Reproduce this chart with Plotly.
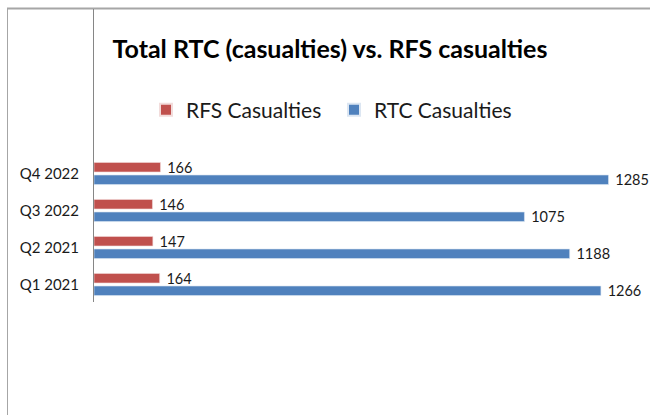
import plotly.graph_objects as go

categories = ["Q1 2021", "Q2 2021", "Q3 2022", "Q4 2022"]
rfs_casualties = [164, 147, 146, 166]
rtc_casualties = [1266, 1188, 1075, 1285]

W, H = 650, 415
L, R, T, B = 94, 0, 155, 112
pw, ph = W - L - R, H - T - B

def px(x):
    return (x - L) / pw

def py(y):
    return (H - B - y) / ph

FONT = "Lato, Carlito, sans-serif"
RED = "#C0504D"
BLUE = "#4F81BD"

fig = go.Figure()
fig.add_trace(go.Bar(
    y=categories, x=rtc_casualties, orientation="h", name="RTC Casualties",
    marker=dict(color=BLUE, line=dict(color="#DCE6F2", width=0.6)),
    text=rtc_casualties, texttemplate=" %{x}", textposition="outside", cliponaxis=False,
    constraintext="none",
    textfont=dict(family=FONT, size=14.5, color="#1a1a1a"), legendrank=2,
))
fig.add_trace(go.Bar(
    y=categories, x=rfs_casualties, orientation="h", name="RFS Casualties",
    marker=dict(color=RED, line=dict(color="#F2DCDB", width=0.6)),
    text=rfs_casualties, texttemplate=" %{x}", textposition="outside", cliponaxis=False,
    constraintext="none",
    textfont=dict(family=FONT, size=14.5, color="#1a1a1a"), legendrank=1,
))

fig.update_layout(
    width=W, height=H,
    margin=dict(l=L, r=R, t=T, b=B, pad=0),
    paper_bgcolor="white", plot_bgcolor="white",
    barmode="group", bargap=0.32, bargroupgap=0.24,
    font=dict(family=FONT, color="#1a1a1a"),
    title=dict(text="<b>Total RTC (casualties) vs. RFS casualties</b>",
               x=330 / W, xanchor="center", xref="container",
               y=1 - 49 / H, yanchor="middle", yref="container",
               font=dict(family=FONT, size=25, color="#000000")),
    showlegend=True,
    legend=dict(orientation="h", x=px(334), xanchor="center", y=py(110), yanchor="middle",
                font=dict(family=FONT, size=21, color="#1a1a1a"),
                bgcolor="rgba(0,0,0,0)", itemsizing="constant",
                entrywidth=143, entrywidthmode="pixels"),
    xaxis=dict(range=[0, pw / 0.4004], showgrid=False, zeroline=False,
               showline=False, showticklabels=False, ticks=""),
    yaxis=dict(showgrid=False, zeroline=False, showline=False, ticks="",
               tickfont=dict(family=FONT, size=15, color="#1a1a1a"),
               ticklabelstandoff=14),
)

# chart frame lines and axis line
fig.add_shape(type="line", xref="paper", yref="paper",
              x0=px(7), x1=px(650), y0=py(8.5), y1=py(8.5),
              line=dict(color="#A6A6A6", width=2))
fig.add_shape(type="line", xref="paper", yref="paper",
              x0=px(7.5), x1=px(7.5), y0=py(8.5), y1=py(415),
              line=dict(color="#A6A6A6", width=1))
fig.add_shape(type="line", xref="paper", yref="paper",
              x0=px(93.5), x1=px(93.5), y0=py(9), y1=py(302),
              line=dict(color="#868686", width=1))

fig.write_html("out.html")
